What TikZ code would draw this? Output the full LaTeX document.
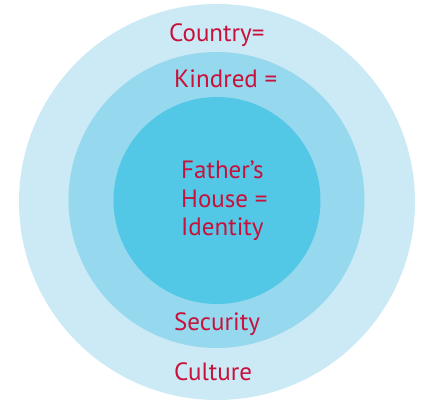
\documentclass[tikz,border=0pt]{standalone}
\usepackage{fontspec}
\setmainfont{PT Sans}
\usetikzlibrary{positioning}
\definecolor{ringout}{RGB}{204,234,246}
\definecolor{ringmid}{RGB}{150,216,238}
\definecolor{ringin}{RGB}{82,200,230}
\definecolor{labred}{RGB}{200,16,58}
\tikzset{ring/.style={circle, inner sep=0pt, minimum size=#1}}
\tikzset{lab/.style={text=labred, font=\fontsize{25}{28.5}\selectfont, inner sep=0pt, anchor=base west}}
\begin{document}
\begin{tikzpicture}[x=1pt,y=-1pt]
	\useasboundingbox (0,0) rectangle (421,403);
	\node[ring=396pt, fill=ringout] (country) at (217,202) {};
	\node[ring=296pt, fill=ringmid] (kindred) at (216.5,200) {};
	\node[ring=207pt, fill=ringin] (house) at (217,200.5) {};

	\node[lab] (lab-country) at (169,41.7) {Country=};
	\node[lab] (lab-kindred) at (174,88) {Kindred =};
	\node[lab] (lab-father) at (181,179) {Father's};
	\node[lab] (lab-house) at (181,207.5) {House =};
	\node[lab] (lab-identity) at (181,236) {Identity};
	\node[lab] (lab-security) at (174,331) {Security};
	\node[lab] (lab-culture) at (174,381) {Culture};
\end{tikzpicture}
\end{document}
